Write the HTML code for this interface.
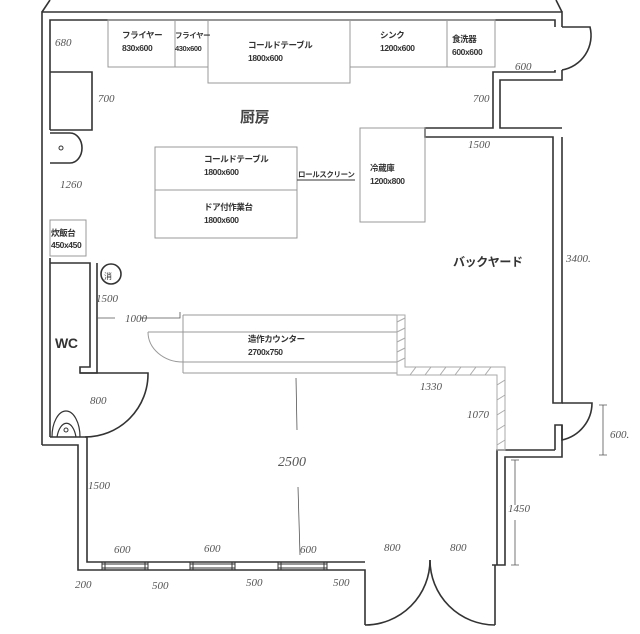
<!DOCTYPE html>
<html><head><meta charset="utf-8"><style>
html,body{margin:0;padding:0;background:#fff;}
svg{display:block;}
.l{font-family:"Liberation Sans","Noto Sans CJK JP",sans-serif;font-weight:bold;font-size:8.5px;fill:#333;letter-spacing:-0.4px;}
.h{font-family:"Liberation Serif",serif;font-style:italic;font-size:11px;fill:#555;}
</style></head><body>
<svg width="640" height="634" viewBox="0 0 640 634" xmlns="http://www.w3.org/2000/svg">
<rect width="640" height="634" fill="#fff"/>
<g fill="none" stroke="#333" stroke-width="1.6">
<path d="M42 445 L42 12 L562 12 L562 27"/>
<path d="M50 130 L50 20 L555 20 L555 27"/>
<path d="M42 12 L50 0 M562 12 L556 0"/>
<path d="M50 72 L92 72 L92 130 L50 130"/>
<path d="M562 70 L562 80 L500 80 L500 128 L562 128"/>
<path d="M555 70 L555 72 L493 72 L493 128 L425 128 L425 137 L553 137 L553 403 L562 403 L562 137"/>
<path d="M562 27 L590 27 A35 35 0 0 1 562 70"/>
<path d="M562 403 L592 403 A38 38 0 0 1 562 440 L562 425 L555 425 L555 450"/>
<path d="M562 425 L562 457 L505 457 L505 565 L492 565"/>
<path d="M555 450 L497 450 L497 565"/>
<path d="M42 445 L78 445 L78 570 L365 570 L365 625"/>
<path d="M50 437 L87 437 L87 562 L365 562"/>
<path d="M50 258 L50 437"/>
<path d="M365 625 A65 65 0 0 0 430 560"/>
<path d="M495 625 A65 65 0 0 1 430 560"/>
<path d="M495 565 L495 625"/>
<path d="M50 263 L90 263 L90 367 L80 367 L80 373 L97 373 L97 263"/>
<path d="M80 373 L148 373 A63 63 0 0 1 85 437"/>
<path d="M52 437 A14 26 0 0 1 80 437 M57 437 A10 20 0 0 1 76 437" stroke-width="1.2"/>
<circle cx="66" cy="430" r="2" stroke-width="1"/>
<path d="M50 133 L70 133 A12 15 0 0 1 70 163 L50 163"/>
<circle cx="61" cy="148" r="2" stroke-width="1"/>
<circle cx="111" cy="274" r="10"/>
</g>
<g fill="none" stroke="#333" stroke-width="1">
<path d="M102 564 L148 564 M102 568 L148 568 M102 562 L102 570 M105 562 L105 570 M145 562 L145 570 M148 562 L148 570"/>
<path d="M190 564 L235 564 M190 568 L235 568 M190 562 L190 570 M193 562 L193 570 M232 562 L232 570 M235 562 L235 570"/>
<path d="M278 564 L327 564 M278 568 L327 568 M278 562 L278 570 M281 562 L281 570 M324 562 L324 570 M327 562 L327 570"/>
</g>
<g fill="none" stroke="#999" stroke-width="1">
<rect x="108" y="20" width="67" height="47"/>
<rect x="175" y="20" width="33" height="47"/>
<rect x="208" y="20" width="142" height="63"/>
<rect x="350" y="20" width="97" height="47"/>
<rect x="447" y="20" width="48" height="47"/>
<rect x="155" y="147" width="142" height="43"/>
<rect x="155" y="190" width="142" height="48"/>
<rect x="360" y="128" width="65" height="94"/>
<rect x="50" y="220" width="36" height="36"/>
<path d="M183 315 L397 315 M148 332 L397 332 M183 362 L397 362 M183 373 L397 373 M183 315 L183 373 M148 332 A35 30 0 0 0 183 362"/>
</g>
<g fill="none" stroke="#aaa" stroke-width="1">
<path d="M397 315 L405 315 L405 367 L505 367 L505 450 L497 450 L497 375 L397 375 Z"/>
<path d="M397 322 L405 318 M397 332 L405 328 M397 342 L405 338 M397 352 L405 348 M397 362 L405 358 M410 375 L416 367 M425 375 L431 367 M440 375 L446 367 M455 375 L461 367 M470 375 L476 367 M485 375 L491 367 M497 385 L505 380 M497 400 L505 395 M497 415 L505 410 M497 430 L505 425 M497 445 L505 440"/>
</g>
<path d="M297 180 L355 180" stroke="#333" stroke-width="1"/>
<g fill="none" stroke="#555" stroke-width="0.8">
<path d="M296 378 L297 430 M298 487 L300 555"/>
<path d="M97 318 L115 318 M140 318 L180 318 L180 312"/>
<path d="M515 460 L515 505 M515 520 L515 565 M511 460 L519 460 M511 565 L519 565"/>
<path d="M603 405 L603 455 M599 405 L607 405 M599 455 L607 455"/>
</g>
<g class="l">
<text x="122" y="38">フライヤー</text><text x="122" y="51">830x600</text>
<text x="175" y="38" style="font-size:7.5px">フライヤー</text><text x="175" y="51" style="font-size:7.5px">430x600</text>
<text x="248" y="48">コールドテーブル</text><text x="248" y="61">1800x600</text>
<text x="380" y="38">シンク</text><text x="380" y="51">1200x600</text>
<text x="452" y="42">食洗器</text><text x="452" y="55">600x600</text>
<text x="204" y="162">コールドテーブル</text><text x="204" y="175">1800x600</text>
<text x="204" y="210">ドア付作業台</text><text x="204" y="223">1800x600</text>
<text x="298" y="177" style="font-size:7.5px">ロールスクリーン</text>
<text x="370" y="171">冷蔵庫</text><text x="370" y="184">1200x800</text>
<text x="51" y="236">炊飯台</text><text x="51" y="248">450x450</text>
<text x="248" y="342">造作カウンター</text><text x="248" y="355">2700x750</text>
<text x="55" y="348" style="font-size:14px">WC</text>
<text x="240" y="122" style="font-size:15px;fill:#444">厨房</text>
<text x="453" y="266" style="font-size:12px">バックヤード</text>
<text x="104" y="279" style="font-size:8px;font-weight:normal">消</text>
</g>
<g class="h">
<text x="55" y="46">680</text><text x="98" y="102">700</text><text x="473" y="102">700</text>
<text x="515" y="70">600</text><text x="468" y="148">1500</text><text x="60" y="188">1260</text>
<text x="566" y="262">3400.</text><text x="96" y="302">1500</text><text x="125" y="322">1000</text>
<text x="90" y="404">800</text><text x="420" y="390">1330</text><text x="467" y="418">1070</text>
<text x="278" y="466" style="font-size:14px">2500</text><text x="88" y="489">1500</text>
<text x="610" y="438">600.</text><text x="508" y="512">1450</text>
<text x="114" y="553">600</text><text x="204" y="552">600</text><text x="300" y="553">600</text>
<text x="384" y="551">800</text><text x="450" y="551">800</text>
<text x="75" y="588">200</text><text x="152" y="589">500</text><text x="246" y="586">500</text><text x="333" y="586">500</text>
</g>
</svg>
</body></html>
